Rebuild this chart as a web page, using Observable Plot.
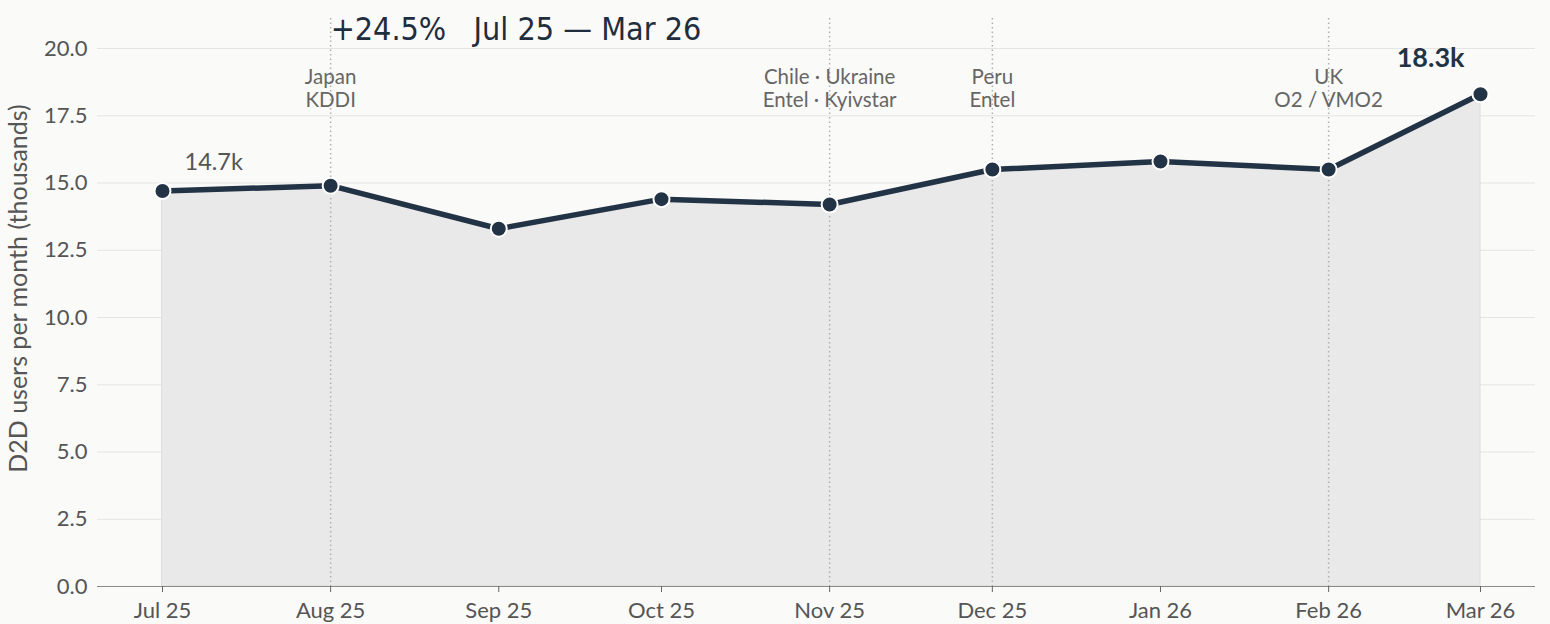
<!DOCTYPE html>
<html>
<head>
<meta charset="utf-8">
<script src="https://cdn.jsdelivr.net/npm/d3@7"></script>
<script src="https://cdn.jsdelivr.net/npm/@observablehq/plot@0.6"></script>
<style>
  html, body { margin: 0; padding: 0; background: #fafaf8; }
  #chart { width: 1550px; height: 624px; }
</style>
</head>
<body>
<div id="chart"></div>
<script>
// ---- data ----
const months = ["2025-07-01","2025-08-01","2025-09-01","2025-10-01","2025-11-01","2025-12-01","2026-01-01","2026-02-01","2026-03-01"];
const users = [14.7, 14.9, 13.3, 14.4, 14.2, 15.5, 15.8, 15.5, 18.3]; // thousands
const eventMonths = ["2025-08-01","2025-11-01","2025-12-01","2026-02-01"];
const eventLabels = ["Japan\nKDDI", "Chile · Ukraine\nEntel · Kyivstar", "Peru\nEntel", "UK\nO2 / VMO2"];
const yTicks = [0, 2.5, 5, 7.5, 10, 12.5, 15, 17.5, 20];
const titleText = "+24.5%\u00a0\u00a0\u00a0Jul 25 \u2014 Mar 26";
const yLabel = "D2D users per month (thousands)";

const parse = d3.utcParse("%Y-%m-%d");
const data = months.map((m, i) => ({date: parse(m), value: users[i]}));
const events = eventMonths.map((m, i) => ({date: parse(m), label: eventLabels[i]}));
const first = data[0], last = data[data.length - 1];
const fmtK = v => d3.format(".1f")(v) + "k";

const ink = "#233346";
const font = "Lato, 'Source Sans 3', 'Noto Sans', sans-serif";

const chart = Plot.plot({
  width: 1550,
  height: 624,
  marginTop: 48,
  marginBottom: 38,
  marginLeft: 97,
  marginRight: 15,
  style: {background: "#fafaf8", fontFamily: font, fontSize: "21px", color: "#555", overflow: "visible"},
  x: {type: "utc", domain: [data[0].date, last.date], insetLeft: 65, insetRight: 55},
  y: {domain: [0, 20]},
  marks: [
    Plot.gridY(yTicks, {stroke: "#e4e4e2", strokeOpacity: 1, strokeWidth: 1}),
    Plot.areaY(data, {x: "date", y: "value", fill: "#e9e9e9", fillOpacity: 1, stroke: "#dcdcdc", strokeWidth: 1}),
    Plot.ruleX(events, {x: "date", insetTop: -30, stroke: "#b0b0b0", strokeWidth: 1.5, strokeDasharray: "1.5,3"}),
    Plot.ruleY([0], {stroke: "#8a8a8a", strokeWidth: 1.2}),
    Plot.axisY({ticks: yTicks, tickSize: 0, tickPadding: 10, tickFormat: d3.format(".1f"), fill: "#555",
      label: null, fontSize: 22}),
    Plot.text([yLabel], {frameAnchor: "left", textAnchor: "middle", rotate: -90, dx: -79, dy: -29, fontSize: 25, fill: "#555"}),
    Plot.axisX({ticks: data.map(d => d.date), tickFormat: d3.utcFormat("%b %y"), tickSize: 6, tickPadding: 10,
      stroke: "#666", fill: "#555", label: null, fontSize: 22}),
    Plot.text(events, {x: "date", text: "label", frameAnchor: "top", lineAnchor: "top", dy: 19,
      fontSize: 20.5, lineHeight: 1.12, fill: "#666"}),
    Plot.line(data, {x: "date", y: "value", stroke: ink, strokeWidth: 5.5, strokeLinejoin: "round"}),
    Plot.dot(data, {x: "date", y: "value", r: 8, fill: ink, stroke: "#fff", strokeWidth: 2}),
    Plot.text([first], {x: "date", y: "value", text: d => fmtK(d.value), textAnchor: "start", dx: 22, dy: -29,
      fontSize: 23.5, fill: "#555"}),
    Plot.text([last], {x: "date", y: "value", text: d => fmtK(d.value), textAnchor: "end", dx: -16, dy: -36,
      fontSize: 27, fontWeight: "bold", fill: ink}),
    Plot.text([titleText], {x: () => events[0].date, frameAnchor: "top", textAnchor: "start", lineAnchor: "bottom",
      dy: -9, fontSize: 32, fontFamily: "'Liberation Sans Narrow', 'DejaVu Sans Condensed', sans-serif", fill: "#1f2d3d"})
  ]
});
document.getElementById("chart").appendChild(chart);
</script>
</body>
</html>
